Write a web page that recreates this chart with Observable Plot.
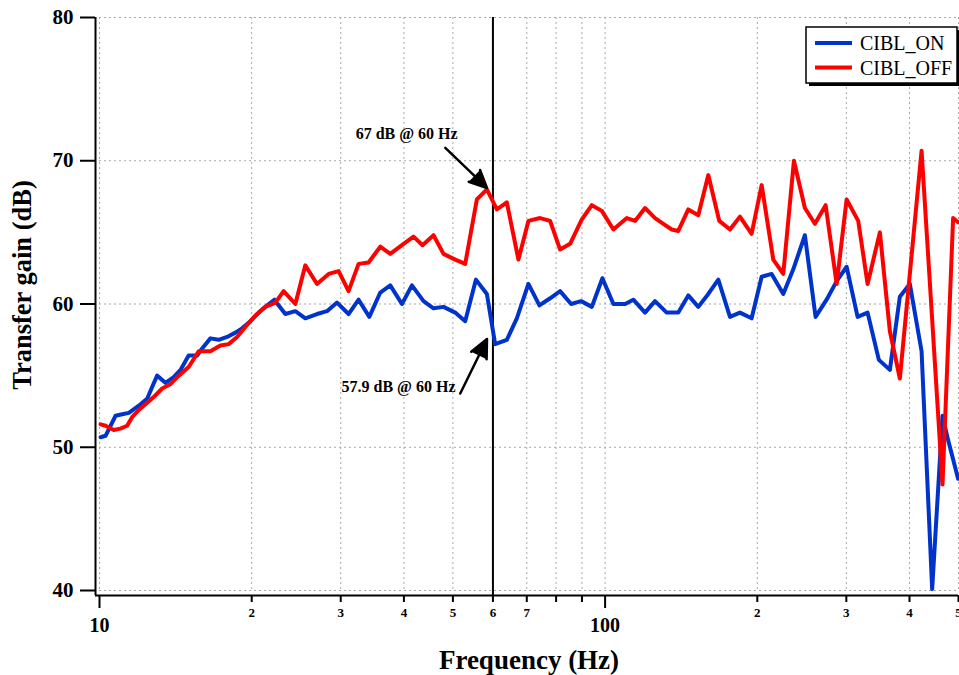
<!DOCTYPE html>
<html>
<head>
<meta charset="utf-8">
<script src="https://cdn.jsdelivr.net/npm/d3@7"></script>
<script src="https://cdn.jsdelivr.net/npm/@observablehq/plot@0.6"></script>
<style>
  html, body { margin: 0; padding: 0; background: #fff; }
  #chart svg { display: block; }
</style>
</head>
<body>
<div id="chart"></div>
<script>
// ---- data ----
const seriesNames = ["CIBL_ON", "CIBL_OFF"];
const seriesColors = ["#0033cc", "#ff0000"];

const freqOn = [10.05,10.28,10.76,11.09,11.43,11.96,12.43,12.71,13.00,13.50,14.02,14.46,15.01,15.60,15.96,16.57,17.21,17.88,18.57,19.14,19.88,20.65,21.28,22.17,23.31,24.40,25.53,26.93,28.18,29.50,31.09,32.54,34.17,35.92,37.59,39.65,41.49,43.74,45.78,47.91,50.53,52.88,55.52,58.37,60.61,63.92,66.90,70.52,74.14,77.85,81.47,85.66,89.64,94.13,98.78,103.85,109.54,113.72,119.94,125.53,132.40,139.57,146.07,152.87,160.0,167.45,176.6,184.8,194.9,204.0,213.5,225.1,235.5,248.4,260.8,274.2,287.1,300.4,315.8,330.5,347.9,365.8,382.8,400.6,422.6,443.5,464.9,476.9,499.1];
const gainOn = [50.7,50.8,52.2,52.3,52.4,52.9,53.4,54.2,55.0,54.5,54.9,55.4,56.4,56.4,56.9,57.6,57.5,57.7,58.0,58.3,58.8,59.4,59.8,60.3,59.3,59.5,59.0,59.3,59.5,60.1,59.3,60.3,59.1,60.8,61.3,60.0,61.3,60.2,59.7,59.8,59.4,58.8,61.7,60.7,57.2,57.5,59.0,61.4,59.9,60.4,60.9,60.0,60.2,59.8,61.8,60.0,60.0,60.3,59.4,60.2,59.4,59.4,60.6,59.8,60.7,61.7,59.1,59.4,59.0,61.9,62.1,60.7,62.4,64.8,59.1,60.3,61.6,62.6,59.1,59.4,56.1,55.4,60.5,61.4,56.7,40.1,52.2,50.5,47.8];

const freqOff = [10.05,10.28,10.67,11.00,11.34,11.60,11.96,12.33,12.80,13.30,13.81,14.35,15.01,15.71,16.57,17.34,18.01,18.71,19.43,20.34,21.28,22.28,23.13,24.40,25.53,26.93,28.39,29.71,31.09,32.54,34.06,35.92,37.59,39.94,41.80,43.54,45.78,47.91,50.53,52.88,55.77,58.37,61.08,63.92,67.39,70.52,74.38,77.85,81.47,85.27,89.94,94.13,98.51,103.85,110.39,114.63,119.94,125.53,130.37,135.45,139.57,146.07,152.87,160.0,168.2,176.6,184.8,194.9,204.0,215.1,225.1,236.3,248.4,260.0,273.0,287.1,300.4,316.7,330.5,349.5,365.8,382.8,422.6,464.9,487.9,499.1];
const gainOff = [51.6,51.5,51.2,51.3,51.5,52.1,52.6,53.0,53.5,54.1,54.4,55.0,55.6,56.7,56.7,57.1,57.2,57.7,58.4,59.2,59.8,60.1,60.9,60.0,62.7,61.4,62.1,62.3,60.9,62.8,62.9,64.0,63.5,64.2,64.7,64.1,64.8,63.5,63.1,62.8,67.3,68.0,66.6,67.1,63.1,65.8,66.0,65.8,63.8,64.2,65.9,66.9,66.5,65.2,66.0,65.8,66.7,66.0,65.6,65.2,65.1,66.6,66.2,69.0,65.8,65.2,66.1,64.9,68.3,63.1,62.1,70.0,66.7,65.6,66.9,61.4,67.3,65.8,61.4,65.0,58.1,54.8,70.7,47.4,66.0,65.7];

const yTicks = [40, 50, 60, 70, 80];
const majorXTicks = [10, 100];
const minorXTicks = [20, 30, 40, 50, 60, 70, 80, 90, 200, 300, 400, 500];
const markerFreq = [60];

const annotLabels = ["67 dB @ 60 Hz", "57.9 dB @ 60 Hz"];
const annotTextX = [40.5, 50.6];
const annotTextY = [71.9, 54.19];
const arrowTailX = [48.3, 51.7];
const arrowTailY = [70.9, 53.75];
const arrowHeadX = [58.4, 58.4];
const arrowHeadY = [68.1, 57.56];

const xTitle = "Frequency (Hz)";
const yTitle = "Transfer gain (dB)";

// ---- tables built from the arrays ----
const onData = freqOn.map((f, i) => ({f, g: gainOn[i]}));
const offData = freqOff.map((f, i) => ({f, g: gainOff[i]}));
const annots = annotLabels.map((t, i) => ({
  t, lx: annotTextX[i], ly: annotTextY[i],
  x1: arrowTailX[i], y1: arrowTailY[i], x2: arrowHeadX[i], y2: arrowHeadY[i]
}));
const allXTicks = majorXTicks.concat(minorXTicks);

const font = "'Liberation Serif', 'Times New Roman', serif";
const gridStyle = {stroke: "#a8a8a8", strokeOpacity: 1, strokeDasharray: "2,3", strokeWidth: 1};

const chart = Plot.plot({
  width: 959,
  height: 675,
  marginLeft: 99,
  marginRight: 1,
  marginTop: 17,
  marginBottom: 85,
  style: {fontFamily: font, fontWeight: "bold", background: "#fff", color: "#000", overflow: "visible"},
  x: {type: "log", domain: [10, 500]},
  y: {domain: [40, 80]},
  marks: [
    Plot.gridY(yTicks, gridStyle),
    Plot.gridX(allXTicks, gridStyle),
    Plot.ruleX([10], {dx: -4, insetBottom: -5, strokeWidth: 2, stroke: "#000"}),
    Plot.ruleY([40], {dy: 5, insetLeft: -4, strokeWidth: 2, stroke: "#000"}),
    Plot.axisY(yTicks, {anchor: "left", dx: -4, tickSize: 15, tickPadding: 7, fontSize: 21, fontWeight: "bold", strokeWidth: 2, label: null}),
    Plot.axisX(majorXTicks, {anchor: "bottom", dy: 5, tickSize: 13, tickPadding: 9, fontSize: 20, fontWeight: "bold", strokeWidth: 2, label: null, tickFormat: d => String(d)}),
    Plot.axisX(minorXTicks, {anchor: "bottom", dy: 5, tickSize: 7, tickPadding: 5, fontSize: 13, fontWeight: "bold", strokeWidth: 2, label: null, tickFormat: d => String(d).charAt(0)}),
    Plot.ruleX(markerFreq, {insetBottom: -5, strokeWidth: 2, stroke: "#000"}),
    Plot.line(onData, {x: "f", y: "g", stroke: seriesColors[0], strokeWidth: 4}),
    Plot.line(offData, {x: "f", y: "g", stroke: seriesColors[1], strokeWidth: 4}),
    Plot.arrow(annots, {x1: "x1", y1: "y1", x2: "x2", y2: "y2", stroke: "#000", fill: "#000", strokeWidth: 2.5, headLength: 13, headAngle: 50}),
    Plot.text(annots.slice(0, 1), {x: "lx", y: "ly", text: "t", textAnchor: "middle", fontSize: 16, fontWeight: "bold", fill: "#000"}),
    Plot.text(annots.slice(1, 2), {x: "lx", y: "ly", text: "t", textAnchor: "end", fontSize: 16, fontWeight: "bold", fill: "#000"}),
    Plot.text([xTitle], {frameAnchor: "bottom", dy: 70, lineAnchor: "middle", textAnchor: "middle", fontSize: 27, fontWeight: "bold", fill: "#000"}),
    Plot.text([yTitle], {frameAnchor: "left", dx: -77, dy: -19, rotate: -90, lineAnchor: "middle", textAnchor: "middle", fontSize: 26.5, fontWeight: "bold", fill: "#000"})
  ]
});

document.getElementById("chart").appendChild(chart);

// ---- legend (inside the plot, top-right) ----
const svg = d3.select(chart);
const lg = svg.append("g").attr("font-family", font).attr("font-weight", "normal").attr("text-anchor", "start");
lg.append("rect").attr("x", 809).attr("y", 30).attr("width", 151).attr("height", 56).attr("fill", "#000");
lg.append("rect").attr("x", 806).attr("y", 27).attr("width", 151).attr("height", 56)
  .attr("fill", "#fff").attr("stroke", "#000").attr("stroke-width", 1.5);
seriesNames.forEach((name, i) => {
  const y = 43 + i * 24.5;
  lg.append("line").attr("x1", 815).attr("x2", 852).attr("y1", y).attr("y2", y)
    .attr("stroke", seriesColors[i]).attr("stroke-width", 4);
  lg.append("text").attr("x", 860).attr("y", y).attr("dy", "0.35em")
    .attr("font-size", 20).attr("fill", "#000").attr("text-anchor", "start").text(name);
});
</script>
</body>
</html>
